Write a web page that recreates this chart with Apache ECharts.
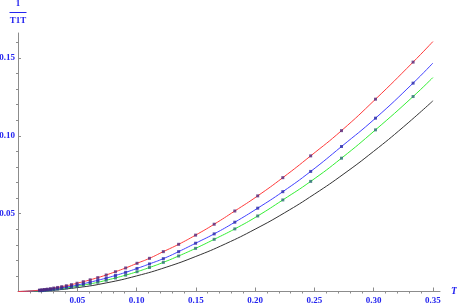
<!DOCTYPE html>
<html>
<head>
<meta charset="utf-8">
<script src="https://cdn.jsdelivr.net/npm/echarts@6/dist/echarts.min.js"></script>
<style>html,body{margin:0;padding:0;background:#fff;}#c{width:457px;height:305px;}</style>
</head>
<body>
<div id="c"></div>
<script>
// Data
var T = [0.3333, 0.3016, 0.2729, 0.2469, 0.2234, 0.2022, 0.1829, 0.1655, 0.1498, 0.1355,
         0.1226, 0.1109, 0.1004, 0.0908, 0.0822, 0.0744, 0.0673, 0.0609, 0.0551, 0.0498,
         0.0451, 0.0408, 0.0369, 0.0334, 0.0302, 0.0274, 0.0247, 0.0224, 0.0203, 0.0183];
var redPts = [0.1473, 0.1235, 0.1033, 0.0871, 0.0731, 0.0614, 0.0517, 0.0432, 0.0362, 0.0303,
              0.0256, 0.0213, 0.0181, 0.0151, 0.0127, 0.0106, 0.0089, 0.0075, 0.0063, 0.0053,
              0.0044, 0.0037, 0.0031, 0.0026, 0.0022, 0.0018, 0.0015, 0.0013, 0.0011, 0.0009];
var bluePts = [0.1338, 0.1113, 0.0931, 0.0771, 0.0641, 0.0535, 0.0445, 0.0370, 0.0310, 0.0256,
               0.0211, 0.0177, 0.0148, 0.0123, 0.0103, 0.0086, 0.0072, 0.0060, 0.0050, 0.0041,
               0.0034, 0.0029, 0.0024, 0.0020, 0.0017, 0.0014, 0.0012, 0.0010, 0.0008, 0.0007];
var greenPts = [0.1252, 0.1038, 0.0856, 0.0707, 0.0588, 0.0485, 0.0402, 0.0335, 0.0277, 0.0228,
                0.0187, 0.0154, 0.0127, 0.0105, 0.0087, 0.0072, 0.0059, 0.0049, 0.0041, 0.0034,
                0.0028, 0.0023, 0.0019, 0.0016, 0.0013, 0.0011, 0.0009, 0.0007, 0.0006, 0.0005];
// curve end values at T = 0.35 and near origin
var lineStartT = [0, 0.01];
var redStart = [0, 0.0003];
var blueStart = [0, 0.0002];
var greenStart = [0, 0.00015];
var endT = 0.35;
var redEnd = 0.1605, blueEnd = 0.1467, greenEnd = 0.1374;
// black curve (no points)
var blackT = [0, 0.02, 0.05, 0.075, 0.1, 0.125, 0.15, 0.175, 0.2, 0.225, 0.25, 0.275, 0.3, 0.325, 0.35];
var blackV = [0, 0.0004, 0.0025, 0.0056, 0.0100, 0.0156, 0.0225, 0.0306, 0.0400, 0.0506, 0.0625, 0.0756, 0.0900, 0.1056, 0.1224];
// ticks
var xMajor = [0.05, 0.10, 0.15, 0.20, 0.25, 0.30, 0.35];
var xMinor = [0.01,0.02,0.03,0.04,0.06,0.07,0.08,0.09,0.11,0.12,0.13,0.14,0.16,0.17,0.18,0.19,
              0.21,0.22,0.23,0.24,0.26,0.27,0.28,0.29,0.31,0.32,0.33,0.34];
var yMajor = [0.05, 0.10, 0.15];
var yMinor = [0.01,0.02,0.03,0.04,0.06,0.07,0.08,0.09,0.11,0.12,0.13,0.14,0.16];

function pts(vals){ return T.map(function(t,i){ return [t, vals[i]]; }); }
function lineData(start, vals, endV){
  var d = lineStartT.map(function(t,i){ return [t, start[i]]; });
  var p = pts(vals).slice().reverse();
  d = d.concat(p);
  d.push([endT, endV]);
  return d;
}
var blackData = blackT.map(function(t,i){ return [t, blackV[i]]; });

var AX = '#8c8c8c';
var LBL = {color:'#2424f0', fontFamily:'Liberation Serif', fontWeight:'bold', fontSize:9};
var XMIN = 0, XMAX = 0.356, YMIN = 0, YMAX = 0.166;

var chart = echarts.init(document.getElementById('c'), null, {renderer:'canvas'});
chart.setOption({
  animation:false,
  grid:{left:18, right:17, top:33, bottom:13.5, containLabel:false, outerBoundsMode:'none'},
  xAxis:[{
    type:'value', min:XMIN, max:XMAX,
    axisLine:{show:true, onZero:false, lineStyle:{color:AX, width:1}},
    axisTick:{show:true, inside:true, length:4, customValues:xMajor, lineStyle:{color:AX}},
    axisLabel:Object.assign({margin:5, customValues:xMajor, formatter:function(v){return v.toFixed(2);}}, LBL),
    splitLine:{show:false},
    name:'T', nameLocation:'end', nameGap:11,
    nameTextStyle:{color:'#2424f0', fontFamily:'Liberation Serif', fontStyle:'italic', fontWeight:'bold', fontSize:10, verticalAlign:'middle'}
  },{
    type:'value', min:XMIN, max:XMAX, gridIndex:0,
    axisLine:{show:false},
    axisTick:{show:true, inside:true, length:2, customValues:xMinor, lineStyle:{color:AX}},
    axisLabel:{show:false}, splitLine:{show:false}
  }],
  yAxis:[{
    type:'value', min:YMIN, max:YMAX,
    axisLine:{show:true, onZero:false, lineStyle:{color:AX, width:1}},
    axisTick:{show:true, inside:true, length:3, customValues:yMajor, lineStyle:{color:AX}},
    axisLabel:Object.assign({margin:3, customValues:yMajor, formatter:function(v){return v.toFixed(2);}}, LBL),
    splitLine:{show:false},
    name:'{n|1}\n{bar|}\n{d|T1T}', nameLocation:'end', nameGap:7,
    nameTextStyle:{
      align:'center', verticalAlign:'bottom',
      rich:{
        n:{color:'#2424f0', fontFamily:'Liberation Serif', fontWeight:'bold', fontSize:9, lineHeight:10, align:'center'},
        bar:{backgroundColor:'#2424f0', width:17, height:1, lineHeight:7, align:'center'},
        d:{color:'#2424f0', fontFamily:'Liberation Serif', fontWeight:'bold', fontSize:9, lineHeight:10, align:'center'}
      }
    }
  },{
    type:'value', min:YMIN, max:YMAX, gridIndex:0,
    axisLine:{show:false},
    axisTick:{show:true, inside:true, length:2, customValues:yMinor, lineStyle:{color:AX}},
    axisLabel:{show:false}, splitLine:{show:false}
  }],
  series:[
    {type:'line', data:blackData, showSymbol:false, smooth:true, lineStyle:{color:'#333333', width:1}, z:2},
    {type:'line', data:lineData(greenStart, greenPts, greenEnd), showSymbol:false, smooth:true, lineStyle:{color:'#33ee33', width:1}, z:2},
    {type:'line', data:lineData(blueStart, bluePts, blueEnd), showSymbol:false, smooth:true, lineStyle:{color:'#4040ff', width:1}, z:2},
    {type:'line', data:lineData(redStart, redPts, redEnd), showSymbol:false, smooth:true, lineStyle:{color:'#ff3a3a', width:1}, z:2},
    {type:'scatter', data:pts(greenPts), symbol:'rect', symbolSize:3, itemStyle:{color:'#2e6e78'}, z:3},
    {type:'scatter', data:pts(bluePts), symbol:'rect', symbolSize:3, itemStyle:{color:'#2a2aa8'}, z:3},
    {type:'scatter', data:pts(redPts), symbol:'rect', symbolSize:3, itemStyle:{color:'#55287a'}, z:3}
  ]
});
</script>
</body>
</html>
